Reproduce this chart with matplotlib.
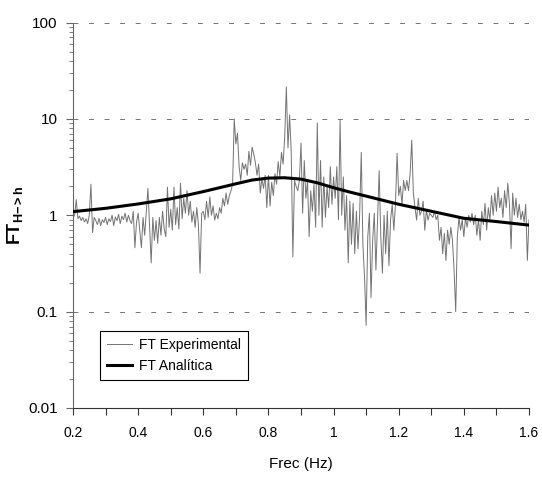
import numpy as np
import matplotlib
matplotlib.use("Agg")
import matplotlib.pyplot as plt
from matplotlib.ticker import FixedLocator, LogLocator, NullFormatter, FixedFormatter

plt.rcParams['font.family'] = ['Liberation Sans', 'DejaVu Sans']
plt.rcParams['mathtext.fontset'] = 'custom'
plt.rcParams['mathtext.rm'] = 'Liberation Sans'
plt.rcParams['mathtext.bf'] = 'Liberation Sans:bold'
plt.rcParams['mathtext.it'] = 'Liberation Sans:italic'

# ---- data ----
freq_start = 0.2
freq_step = 0.005
ft_experimental = [
    0.95, 1.00, 1.45, 0.92, 0.98, 0.88, 0.95, 0.85, 0.92, 0.82, 1.00, 2.10, 0.66, 0.95, 0.88, 0.80, 0.93, 0.78, 0.90, 0.84,
    0.95, 0.80, 0.92, 0.86, 1.00, 0.78, 0.96, 0.88, 1.02, 0.82, 0.98, 0.90, 1.05, 0.85, 1.00, 0.88, 0.82, 1.10, 0.46, 0.85,
    1.05, 0.70, 0.46, 0.95, 0.62, 1.10, 1.90, 0.80, 0.32, 0.95, 0.55, 0.88, 0.51, 0.95, 0.62, 1.10, 0.72, 0.60, 1.96, 0.75,
    1.15, 0.70, 1.96, 0.80, 1.20, 0.72, 2.15, 0.92, 1.50, 1.05, 1.80, 1.00, 1.40, 0.85, 1.10, 0.75, 1.20, 0.80, 0.25, 1.05,
    1.10, 0.90, 1.40, 0.95, 1.55, 1.00, 1.25, 0.89, 1.05, 0.92, 1.20, 1.05, 1.50, 1.25, 1.70, 1.30, 1.60, 1.80, 2.10, 10.0,
    5.50, 7.10, 3.20, 2.30, 3.50, 3.00, 3.40, 2.60, 4.60, 3.30, 5.10, 4.30, 3.50, 2.60, 3.40, 1.70, 2.40, 1.90, 2.60, 1.20,
    2.60, 1.25, 2.20, 1.60, 2.70, 2.10, 3.60, 2.50, 4.50, 3.40, 6.50, 21.5, 5.00, 11.0, 4.50, 0.37, 2.30, 2.00, 1.80, 2.30,
    5.60, 1.05, 3.70, 1.50, 2.30, 0.60, 1.80, 1.10, 2.10, 0.75, 9.10, 1.00, 3.70, 0.75, 2.50, 0.95, 2.00, 1.20, 3.20, 1.30,
    2.50, 1.50, 3.20, 0.90, 9.70, 1.00, 2.50, 0.70, 1.60, 0.32, 1.40, 0.50, 1.33, 0.40, 1.10, 0.45, 1.00, 4.50, 0.50, 0.23,
    0.072, 0.60, 1.05, 0.14, 0.55, 1.05, 0.27, 0.90, 2.90, 0.60, 0.25, 1.00, 0.40, 1.10, 0.30, 0.90, 1.30, 0.70, 1.30, 4.40,
    1.60, 2.00, 1.30, 2.30, 1.80, 2.30, 1.80, 2.70, 6.00, 1.70, 1.20, 0.89, 1.50, 1.00, 1.10, 1.40, 0.70, 1.13, 0.89, 1.05,
    1.00, 0.95, 1.10, 0.90, 1.00, 0.55, 0.75, 0.40, 0.65, 0.34, 0.70, 0.50, 0.75, 0.55, 0.27, 0.10, 0.60, 0.95, 0.70, 0.90,
    0.60, 0.95, 0.75, 1.00, 0.85, 1.05, 0.80, 1.00, 0.62, 0.90, 0.55, 1.10, 0.80, 1.33, 0.70, 1.20, 0.90, 1.60, 1.00, 1.70,
    1.10, 1.96, 1.20, 1.50, 0.95, 1.80, 1.20, 2.15, 1.30, 0.45, 1.70, 1.00, 1.50, 0.95, 1.30, 0.90, 1.10, 0.85, 1.30, 0.34,
    0.90,
]
freq_experimental = np.round(freq_start + freq_step * np.arange(len(ft_experimental)), 4)

freq_analytic = [0.20, 0.30, 0.40, 0.50, 0.60, 0.70, 0.75, 0.80, 0.85, 0.90, 0.95, 1.00, 1.05, 1.10, 1.20, 1.30, 1.40, 1.50, 1.60]
ft_analytic = [1.09, 1.18, 1.31, 1.48, 1.76, 2.12, 2.32, 2.43, 2.45, 2.37, 2.17, 1.93, 1.74, 1.58, 1.30, 1.10, 0.93, 0.86, 0.79]

x_ticks = [0.2, 0.4, 0.6, 0.8, 1.0, 1.2, 1.4, 1.6]
x_tick_labels = ['0.2', '0.4', '0.6', '0.8', '1', '1.2', '1.4', '1.6']
y_ticks = [0.01, 0.1, 1, 10, 100]
y_tick_labels = ['0.01', '0.1', '1', '10', '100']

# ---- figure ----
fig = plt.figure(figsize=(5.42, 4.83), dpi=100)
ax = fig.add_axes([0.1347, 0.1553, 0.8413, 0.7981])

ax.set_yscale('log')
ax.set_xlim(0.2, 1.6)
ax.set_ylim(0.01, 100)

# faint dashed gridlines (scanned look)
for yv in [100, 10, 0.1]:
    ax.axhline(yv, color='0.45', lw=0.7, dashes=(5, 11), zorder=0)

ax.plot(freq_experimental, ft_experimental, color='0.45', lw=0.7, label='FT Experimental', zorder=2)
ax.plot(freq_analytic, ft_analytic, color='black', lw=2.2, label='FT Analítica', zorder=3)

for s in ['top', 'right']:
    ax.spines[s].set_visible(False)
ax.spines['left'].set_color('0.4')
ax.spines['bottom'].set_color('0.2')

ax.xaxis.set_major_locator(FixedLocator(x_ticks))
ax.xaxis.set_major_formatter(FixedFormatter(x_tick_labels))
ax.xaxis.set_minor_locator(FixedLocator(np.round(np.arange(0.3, 1.6, 0.2), 2)))
ax.yaxis.set_major_locator(FixedLocator(y_ticks))
ax.yaxis.set_major_formatter(FixedFormatter(y_tick_labels))
ax.yaxis.set_minor_locator(LogLocator(base=10, subs=np.arange(2, 10)))
ax.yaxis.set_minor_formatter(NullFormatter())

ax.tick_params(axis='x', which='major', direction='out', length=5, width=0.8, labelsize=10, pad=8, color='0.2')
ax.tick_params(axis='x', which='minor', direction='out', length=5, width=0.8, color='0.2')
ax.tick_params(axis='y', which='major', direction='out', length=5, width=0.8, labelsize=11, pad=6, color='0.4')
ax.tick_params(axis='y', which='minor', direction='out', length=3, width=0.6, color='0.4')

ax.set_xlabel('Frec (Hz)', fontsize=11, labelpad=12)
ax.set_ylabel(r'$\mathbf{FT}_{\mathbf{H{-}{>}h}}$', fontsize=13)
ax.yaxis.set_label_coords(-0.105, 0.5)

leg = ax.legend(loc='lower left', bbox_to_anchor=(0.045, 0.055), fontsize=10,
                frameon=True, fancybox=False, edgecolor='black', framealpha=1,
                handlelength=1.8, borderpad=0.5, labelspacing=0.5, handletextpad=0.5)
leg.get_frame().set_linewidth(0.8)

fig.savefig('out.png', dpi=100)
